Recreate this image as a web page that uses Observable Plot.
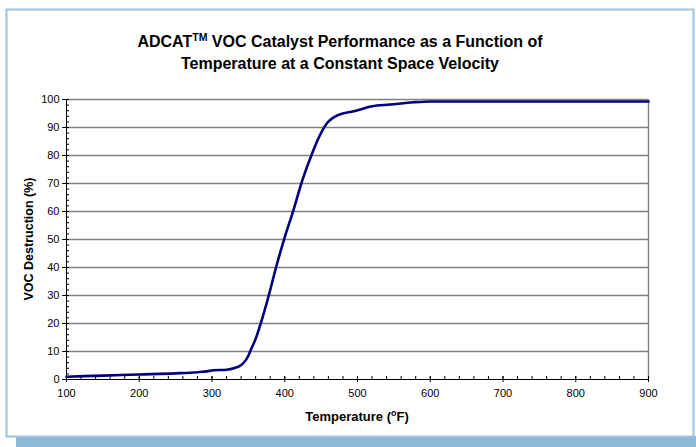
<!DOCTYPE html>
<html>
<head>
<meta charset="utf-8">
<script src="https://cdn.jsdelivr.net/npm/d3@7"></script>
<script src="https://cdn.jsdelivr.net/npm/@observablehq/plot@0.6"></script>
<style>
  body { margin: 0; background: white; }
  #chart svg { display: block; }
</style>
</head>
<body>
<div id="chart"></div>
<script>
// Temperature (°F)
const temperature = [100, 150, 200, 250, 280, 293, 302, 320, 330, 341, 350, 353, 360, 367, 378, 388, 399, 412, 424, 438, 447, 458, 474, 495, 520, 545, 577, 600, 700, 800, 900];
// VOC destruction (%)
const destruction = [1.0, 1.4, 1.8, 2.2, 2.6, 2.9, 3.3, 3.5, 4.0, 5.3, 8.5, 10.4, 14.5, 20, 30, 40, 50, 60.5, 71, 81, 86.5, 91.5, 94.5, 95.8, 97.6, 98.2, 99.0, 99.3, 99.3, 99.3, 99.3];

const xTicks = [100, 200, 300, 400, 500, 600, 700, 800, 900];
const yTicks = [0, 10, 20, 30, 40, 50, 60, 70, 80, 90, 100];
const xMinor = d3.range(100, 901, 20);
const yMinor = d3.range(0, 101, 2);

const data = temperature.map((t, i) => ({t, v: destruction[i]}));

const W = 696, H = 447;
const mL = 66, mR = 48, mT = 99, mB = 68;
const pxX = 800 / (W - mL - mR);   // data units per pixel (x)
const pxY = 100 / (H - mT - mB);   // data units per pixel (y)

const font = "Liberation Sans, Arial, sans-serif";

const plot = Plot.plot({
  width: W,
  height: H,
  marginLeft: mL,
  marginRight: mR,
  marginTop: mT,
  marginBottom: mB,
  style: {fontFamily: font, fontSize: "11px", color: "black", background: "transparent"},
  x: {domain: [100, 900]},
  y: {domain: [0, 100]},
  marks: [
    Plot.ruleY(yTicks.filter(d => d > 0), {stroke: "#808080", strokeWidth: 1.4}),
    Plot.ruleX([900], {y1: 0, y2: 100, stroke: "#808080", strokeWidth: 1.4}),
    // y minor ticks (inside)
    Plot.ruleY(yMinor, {x1: 100, x2: 100 + 3 * pxX, stroke: "black", strokeWidth: 1}),
    // y major ticks (outside)
    Plot.ruleY(yTicks, {x1: 100 - 4 * pxX, x2: 100, stroke: "black", strokeWidth: 1}),
    // x minor ticks (inside)
    Plot.ruleX(xMinor, {y1: 0, y2: 3 * pxY, stroke: "black", strokeWidth: 1}),
    // x major ticks (cross)
    Plot.ruleX(xTicks, {y1: -3 * pxY, y2: 3 * pxY, stroke: "black", strokeWidth: 1}),
    Plot.ruleX([100], {y1: 0, y2: 100, stroke: "black", strokeWidth: 1}),
    Plot.ruleY([0], {x1: 100, x2: 900, stroke: "black", strokeWidth: 1}),
    Plot.axisY({ticks: yTicks, tickSize: 0, tickPadding: 7, label: null, fontSize: 11}),
    Plot.axisX({ticks: xTicks, tickSize: 0, tickPadding: 10, label: null, fontSize: 11}),
    Plot.line(data, {x: "t", y: "v", stroke: "#000080", strokeWidth: 2.6, curve: "monotone-x"})
  ]
});

const svg = d3.select(plot);
// frame
const bg = svg.insert("g", ":first-child");
bg.append("rect").attr("x", 16).attr("y", 436).attr("width", W - 16).attr("height", H - 436).attr("fill", "#8BBAD8");
bg.append("rect").attr("x", 6.5).attr("y", 9.5).attr("width", 687).attr("height", 427).attr("fill", "white").attr("stroke", "#9CC4DE").attr("stroke-width", 2);

const t = svg.append("g").attr("font-family", font).attr("font-weight", "bold").attr("fill", "black");
const t1 = t.append("text").attr("x", 340).attr("y", 47).attr("text-anchor", "middle").attr("font-size", 16);
t1.append("tspan").text("ADCAT");
t1.append("tspan").attr("font-size", 10.5).attr("dy", -6).text("TM");
t1.append("tspan").attr("dy", 6).text(" VOC Catalyst Performance as a Function of");
t.append("text").attr("x", 340).attr("y", 69).attr("text-anchor", "middle").attr("font-size", 16)
  .text("Temperature at a Constant Space Velocity");

const xt = t.append("text").attr("x", 357).attr("y", 421).attr("text-anchor", "middle").attr("font-size", 13);
xt.append("tspan").text("Temperature (");
xt.append("tspan").attr("font-size", 9).attr("dy", -5).text("o");
xt.append("tspan").attr("dy", 5).text("F)");

t.append("text").attr("transform", "translate(33,239) rotate(-90)").attr("text-anchor", "middle").attr("font-size", 12.5)
  .text("VOC Destruction (%)");

document.getElementById("chart").appendChild(plot);
</script>
</body>
</html>
